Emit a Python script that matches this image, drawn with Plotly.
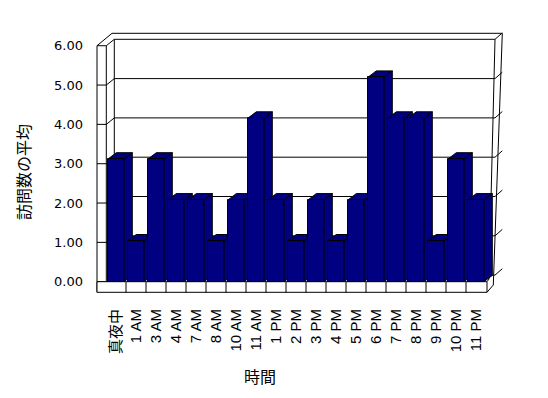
import plotly.graph_objects as go

# ---------------- data ----------------
categories = ["真夜中", "1 AM", "3 AM", "4 AM", "7 AM", "8 AM", "10 AM", "11 AM",
              "1 PM", "2 PM", "3 PM", "4 PM", "5 PM", "6 PM", "7 PM", "8 PM",
              "9 PM", "10 PM", "11 PM"]
values = [3, 1, 3, 2, 2, 1, 2, 4, 2, 1, 2, 1, 2, 5, 4, 4, 1, 3, 2]
y_ticks = [0, 1, 2, 3, 4, 5, 6]
y_title = "訪問数の平均"
x_title = "時間"

# ---------------- geometry / style (page pixels) ----------------
BAR_COLOR = "#000080"
OFF = 8                                   # page body margin
FIG_W, FIG_H = 548 - 2 * OFF, 398 - 2 * OFF
L, R, T, B = 90, 510, 44, 300            # plot area in page px
SLOT0, SLOT = 116.0, 20.0                 # page px centre of slot 0, px per category
ZERO_PX = 281.7                           # page px of value 0 (front plane)
AX_SCALE = 39.33                          # px per unit on the tick plane
BAR_SCALE = 40.9                          # px per unit on the bar plane
DX_PX, DY_PX = 8.3, 6.3                   # depth offset of the bars
BAR_W = 0.8
XTITLE_POS = (260, 376)                   # page px centre of the x title

x_range = [(L - SLOT0) / SLOT, (R - SLOT0) / SLOT]
y_range = [(ZERO_PX - B) / AX_SCALE, (ZERO_PX - T) / AX_SCALE]
y2_range = [(ZERO_PX - B) / BAR_SCALE, (ZERO_PX - T) / BAR_SCALE]
dx = DX_PX / SLOT
dy = DY_PX / BAR_SCALE
n = len(categories)
idx = list(range(n))

fig = go.Figure()

# side and top faces (drawn on y2, beneath the front faces on y3)
for i, v in zip(idx, values):
    xl, xr = i - BAR_W / 2, i + BAR_W / 2
    fig.add_trace(go.Scatter(
        x=[xr, xr + dx, xr + dx, xr, xr], y=[0, dy, v + dy, v, 0],
        mode="lines", fill="toself", fillcolor=BAR_COLOR,
        line=dict(color="black", width=1), xaxis="x", yaxis="y2",
        hoverinfo="skip", showlegend=False, cliponaxis=False))
    fig.add_trace(go.Scatter(
        x=[xl, xr, xr + dx, xl + dx, xl], y=[v, v, v + dy, v + dy, v],
        mode="lines", fill="toself", fillcolor=BAR_COLOR,
        line=dict(color="black", width=1), xaxis="x", yaxis="y2",
        hoverinfo="skip", showlegend=False, cliponaxis=False))

# front faces
fig.add_trace(go.Bar(
    x=idx, y=values, width=BAR_W, xaxis="x", yaxis="y3",
    marker=dict(color=BAR_COLOR, line=dict(color="black", width=1)),
    showlegend=False, name=y_title))

# invisible trace to anchor the main y axis
fig.add_trace(go.Scatter(x=[idx[0]], y=[0], mode="markers",
                         marker=dict(opacity=0), showlegend=False,
                         hoverinfo="skip", xaxis="x", yaxis="y"))

# ---------------- 3D frame (decoration) ----------------
def P(px, py):
    return (px - L) / (R - L), 1 - (py - T) / (B - T)

def seg(p1, p2):
    (x0, y0), (x1, y1) = P(*p1), P(*p2)
    return dict(type="line", xref="paper", yref="paper", x0=x0, y0=y0,
                x1=x1, y1=y1, line=dict(color="black", width=1), layer="below")

def front_px(v):
    return ZERO_PX - AX_SCALE * v

def back_px(v):
    return 275.1 - 39.3 * v

WALL_OUT, WALL_IN, BACK_L, BACK_R, BACK_R_OUT = 97.0, 106.3, 114.3, 495.0, 502.3
FLOOR_R, FLOOR_BOT = 487.0, 292.3
shapes = []
shapes.append(seg((WALL_OUT, front_px(6)), (WALL_OUT, FLOOR_BOT)))
shapes.append(seg((WALL_IN, front_px(6)), (WALL_IN, ZERO_PX)))
shapes.append(seg((WALL_OUT, front_px(6)), (112.0, 33.3)))
shapes.append(seg((112.0, 33.3), (BACK_R_OUT, 33.3)))
shapes.append(seg((BACK_L, back_px(6)), (BACK_L, back_px(0))))
shapes.append(seg((BACK_R, back_px(6)), (489.0, 279.0)))
shapes.append(seg((BACK_R_OUT, 33.3), (493.3, 285.0)))
for v in y_ticks:
    f, b = front_px(v), back_px(v)
    shapes.append(seg((WALL_OUT, f), (WALL_IN, f)))
    shapes.append(seg((WALL_IN, f), (BACK_L, b)))
    shapes.append(seg((BACK_L, b), (BACK_R, b)))
    shapes.append(seg((BACK_R, b), (BACK_R_OUT, b - 6.4)))
x0, y0 = P(WALL_OUT, ZERO_PX)
x1, y1 = P(FLOOR_R, FLOOR_BOT)
shapes.append(dict(type="rect", xref="paper", yref="paper", x0=x0, y0=y1,
                   x1=x1, y1=y0, fillcolor="white",
                   line=dict(color="black", width=1), layer="below"))
for k in range(1, n):
    px = SLOT0 - SLOT / 2 + SLOT * k
    shapes.append(seg((px, ZERO_PX), (px, FLOOR_BOT)))
shapes.append(seg((FLOOR_R, FLOOR_BOT), (493.3, 285.0)))
shapes.append(seg((FLOOR_R, ZERO_PX), (489.0, 279.0)))

ax_t, ay_t = P(*XTITLE_POS)

fig.update_layout(
    width=FIG_W, height=FIG_H, autosize=False,
    margin=dict(l=L - OFF, r=FIG_W - (R - OFF), t=T - OFF, b=FIG_H - (B - OFF),
                pad=0, autoexpand=False),
    paper_bgcolor="white", plot_bgcolor="rgba(0,0,0,0)",
    shapes=shapes, showlegend=False, bargap=0,
    annotations=[dict(text=x_title, xref="paper", yref="paper", x=ax_t, y=ay_t,
                      xanchor="center", yanchor="middle", showarrow=False,
                      font=dict(family="Noto Sans CJK JP", size=16, color="black"))],
    xaxis=dict(range=x_range, tickmode="array", tickvals=idx, ticktext=categories,
               tickangle=-90, showgrid=False, zeroline=False, showline=False,
               ticks="", ticklabelstandoff=5, automargin=False,
               tickfont=dict(family="Liberation Sans, Noto Sans CJK JP",
                             size=15, color="black"),
               fixedrange=True),
    yaxis=dict(range=y_range, tickmode="array", tickvals=y_ticks, tickformat=".2f",
               showgrid=False, zeroline=False, showline=False, ticks="",
               ticklabelstandoff=6, automargin=False,
               tickfont=dict(family="DejaVu Sans", size=13, color="black"),
               title=dict(text=y_title, font=dict(family="Noto Sans CJK JP", size=16,
                                                  color="black"), standoff=19),
               fixedrange=True),
    yaxis2=dict(range=y2_range, overlaying="y", visible=False, fixedrange=True),
    yaxis3=dict(range=y2_range, overlaying="y", visible=False, fixedrange=True),
)

fig.write_html("out.html")
